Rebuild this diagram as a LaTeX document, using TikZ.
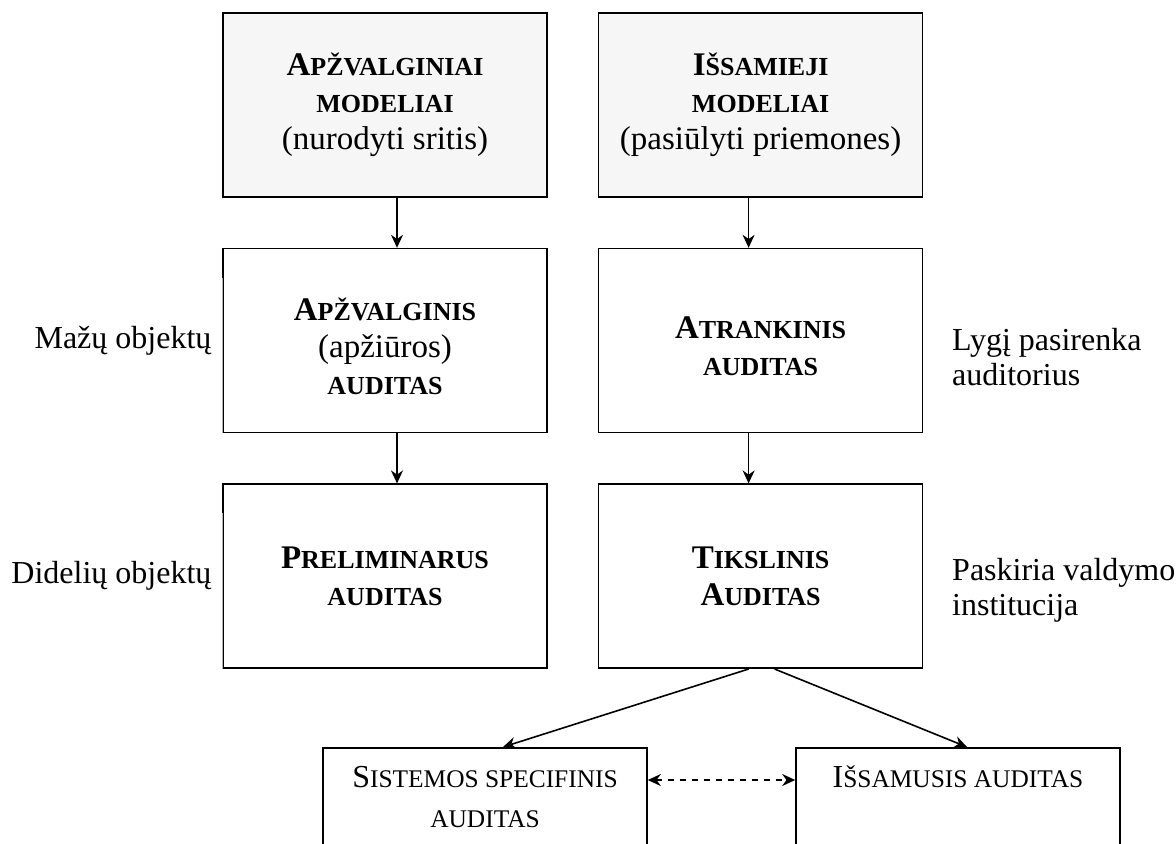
\documentclass[tikz,border=0pt]{standalone}
\usepackage{fontspec}
\setmainfont{Liberation Serif}
\usetikzlibrary{positioning, arrows.meta}
% small caps by hand: first letter full size, the rest smaller
\newcommand{\bsc}[2]{{\bfseries #1{\fontsize{13}{18}\selectfont #2}}}
\newcommand{\rsc}[2]{{#1{\fontsize{12.7}{18}\selectfont #2}}}
\begin{document}
\begin{tikzpicture}[x=0.5pt, y=-0.5pt, ->, >={Stealth[length=6.5pt, width=6pt]}, node distance=25pt, thick,
    box/.style={rectangle, draw, line width=0.8pt, minimum width=162pt, minimum height=92pt, align=center, font=\fontsize{16.5}{18.5}\selectfont},
    topbox/.style={box, fill=gray!7},
    lowbox/.style={box, minimum height=0pt, anchor=north, inner ysep=9pt, text depth=70pt, font=\fontsize{16}{20}\selectfont},
    side/.style={inner sep=0pt, align=left, font=\fontsize{16}{17.5}\selectfont}]
    \useasboundingbox (0,0) rectangle (1176,843);

    % Modeliai
    \node[topbox] (AM) at (385,105) {\bsc{A}{PŽVALGINIAI}\\ \bsc{}{MODELIAI}\\ (nurodyti sritis)};
    \node[topbox, right=of AM] (IM) {\bsc{I}{ŠSAMIEJI}\\ \bsc{}{MODELIAI}\\ (pasiūlyti priemones)};

    % Auditai (vidurine eile su tekstu zemiau)
    \node[box, below=of AM] (AA) {\mbox{}\\[-1.5pt] \bsc{A}{PŽVALGINIS}\\ (apžiūros)\\ \bsc{}{AUDITAS}};
    \node[box, below=of IM] (RA) {\mbox{}\\[-1.5pt] \bsc{A}{TRANKINIS}\\ \bsc{}{AUDITAS}};
    \node[box, below=of AA] (PA) {\bsc{P}{RELIMINARUS}\\ \bsc{}{AUDITAS}};
    \node[box, below=of RA] (TA) {\bsc{T}{IKSLINIS}\\ \bsc{A}{UDITAS}};
    \node[lowbox] (SA) at (485,747) {\rsc{S}{ISTEMOS SPECIFINIS}\\ \rsc{}{AUDITAS}};
    \node[lowbox] (IA) at (958,747) {\rsc{I}{ŠSAMUSIS AUDITAS}};

    % Paaiskinimai
    \node[side, left=5pt of AA] (Lm) {Mažų objektų};
    \node[side, left=5pt of PA] (Ld) {Didelių objektų};
    \node[side, right=14pt of RA, yshift=-8pt] (Ll) {Lygį pasirenka\\ auditorius};
    \node[side, right=14pt of TA, yshift=-7pt] (Lp) {Paskiria valdymo\\ institucija};

    % Rodykles
    \path ([xshift=6pt]AM.south) edge ([xshift=6pt]AA.north)
          ([xshift=6pt]AA.south) edge ([xshift=6pt]PA.north)
          ([xshift=-6pt]IM.south) edge ([xshift=-6pt]RA.north)
          ([xshift=-6pt]RA.south) edge ([xshift=-6pt]TA.north)
          ([xshift=-6pt]TA.south) edge ([xshift=9pt]SA.north)
          ([xshift=7pt]TA.south) edge ([xshift=4.5pt]IA.north);
    \draw[<->, dashed] ([yshift=-16.5pt]SA.north east) -- ([yshift=-16.5pt]IA.north west);

    % pilki kairieji krastai
    \draw[-, white, line width=1.2pt] ([yshift=-15pt]AA.north west) -- (AA.south west)
                                      ([yshift=-15pt]PA.north west) -- (PA.south west);
    \draw[-, gray!60, line width=0.4pt] ([yshift=-15pt]AA.north west) -- (AA.south west)
                                        ([yshift=-15pt]PA.north west) -- (PA.south west);
\end{tikzpicture}
\end{document}
